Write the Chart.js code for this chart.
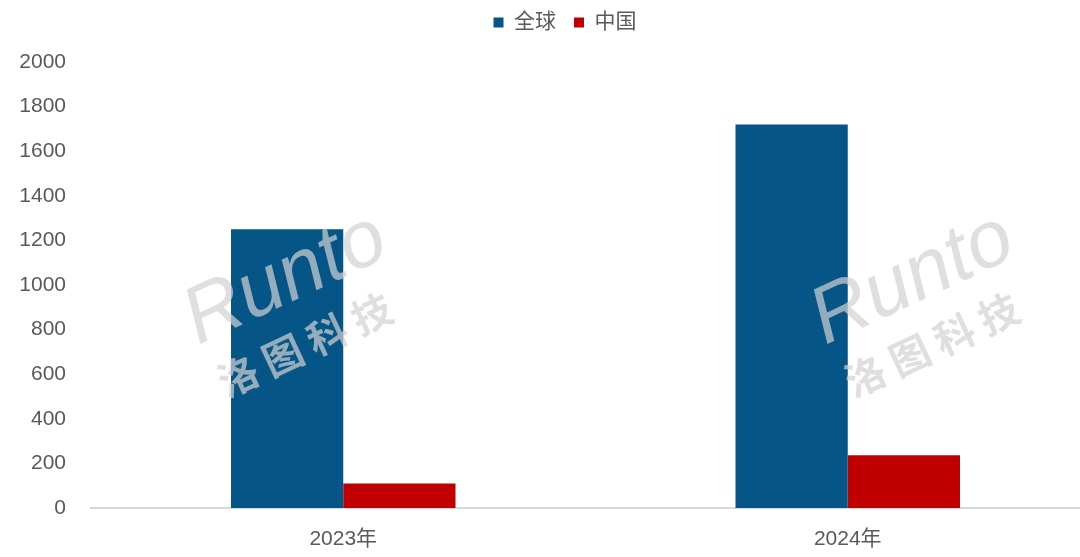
<!DOCTYPE html>
<html>
<head>
<meta charset="utf-8">
<script src="https://cdn.jsdelivr.net/npm/chart.js@4/dist/chart.umd.min.js"></script>
<style>
  html, body { margin: 0; padding: 0; background: #fff; overflow: hidden; }
  #wrap { width: 1100px; height: 557px; }
</style>
</head>
<body>
<div id="wrap"><canvas id="shipChart" width="1100" height="557"></canvas></div>
<script>
const categories = ["2023年", "2024年"];
const seriesNames = ["全球", "中国"];
const globalValues = [1250, 1720];
const chinaValues = [110, 237];
const yTicks = [0, 200, 400, 600, 800, 1000, 1200, 1400, 1600, 1800, 2000];

const textColor = "#595959";
const fontFamily = "'Liberation Sans', 'Noto Sans CJK SC', sans-serif";

// push the plot area down below the legend
const legendGap = {
  id: "legendGap",
  beforeInit(chart) {
    const fit = chart.legend.fit;
    chart.legend.fit = function () {
      fit.bind(chart.legend)();
      this.height += 13;
    };
  },
  afterLayout(chart) {
    // legend sits a little right of the canvas centre and near the top edge
    chart.legend.left += 15;
    chart.legend.right += 15;
    chart.legend.top -= 6;
    chart.legend.bottom -= 6;
  },
};

// faint "Runto 洛图科技" watermark
const watermark = {
  id: "watermark",
  afterDatasetsDraw(chart) {
    const ctx = chart.ctx;
    const spots = [[295, 300], [922, 300]];
    ctx.save();
    ctx.fillStyle = "rgba(210, 210, 210, 0.7)";
    spots.forEach(([x, y]) => {
      ctx.save();
      ctx.translate(x, y);
      ctx.rotate(-25 * Math.PI / 180);
      ctx.font = "italic 80px 'Liberation Sans', sans-serif";
      ctx.textAlign = "center";
      ctx.textBaseline = "alphabetic";
      ctx.fillText("Runto", 0, 0);
      ctx.font = "bold 40px 'Noto Sans CJK SC', sans-serif";
      ctx.fillText("洛 图 科 技", -10, 60);
      ctx.restore();
    });
    ctx.restore();
  },
};

const ctx = document.getElementById("shipChart").getContext("2d");
const shipChart = new Chart(ctx, {
  type: "bar",
  data: {
    labels: categories,
    datasets: [
      {
        label: seriesNames[0],
        data: globalValues,
        backgroundColor: "#055586",
        categoryPercentage: 0.445,
        barPercentage: 1.0,
      },
      {
        label: seriesNames[1],
        data: chinaValues,
        backgroundColor: "#C00000",
        categoryPercentage: 0.445,
        barPercentage: 1.0,
      },
    ],
  },
  options: {
    responsive: false,
    animation: false,
    events: [],
    layout: {
      padding: { left: 0, right: 0, top: 0, bottom: 0 },
    },
    plugins: {
      legend: {
        position: "top",
        labels: {
          color: textColor,
          font: { family: fontFamily, size: 21 },
          boxWidth: 10,
          boxHeight: 10,
          padding: 18,
        },
      },
      tooltip: { enabled: false },
    },
    scales: {
      x: {
        afterFit(scale) {
          scale.height = 49;
        },
        grid: { display: false, drawTicks: false },
        border: { display: true, color: "#d9d9d9", width: 2 },
        ticks: {
          color: textColor,
          font: { family: fontFamily, size: 21 },
          padding: 19,
        },
      },
      y: {
        min: 0,
        max: 2000,
        afterBuildTicks(scale) {
          scale.ticks = yTicks.map((v) => ({ value: v }));
        },
        afterFit(scale) {
          scale.width = 91;
        },
        grid: { display: false, drawTicks: false },
        border: { display: false },
        ticks: {
          color: textColor,
          font: { family: fontFamily, size: 21 },
          padding: 25,
          callback: (v) => String(v),
        },
      },
    },
  },
  plugins: [legendGap, watermark],
});
</script>
</body>
</html>
